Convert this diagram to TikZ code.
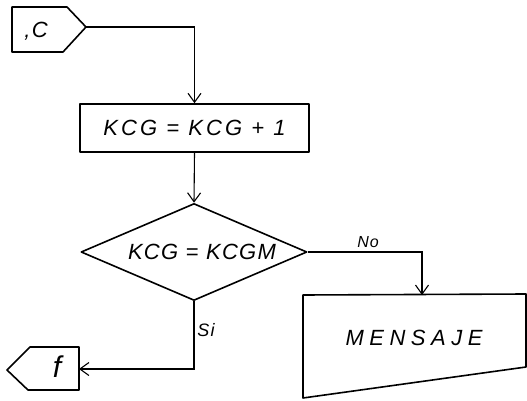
\documentclass[tikz,border=0pt]{standalone}
\usepackage{fontspec}
\newfontfamily\hand[LetterSpace=6]{Liberation Sans}
\usetikzlibrary{arrows.meta,shapes.geometric}
\begin{document}
\begin{tikzpicture}[x=1pt,y=-1pt,
  outl/.style={draw, line width=1.6pt, line join=round},
  conn/.style={line width=1.1pt, -{Straight Barb[length=9pt,width=13pt,line width=1.1pt]}},
  txt/.style={font=\hand\itshape\fontsize{22}{26}\selectfont},
  lbl/.style={font=\hand\itshape\fontsize{16}{18}\selectfont, inner sep=0}]
\useasboundingbox (0,0) rectangle (527,401);
% start connector C
\draw[outl] (12,7) -- (67,7) -- (86,27) -- (63,52) -- (12,52) -- cycle;
\node[txt, inner sep=0] (ctext) at (36,31) {,C};
\coordinate (ctip) at (86,27);
% process box
\node[outl, rectangle, minimum width=229pt, minimum height=48pt, inner sep=0, txt] (inc) at (194.5,128) {\addfontfeature{LetterSpace=14}KCG = KCG + 1};
% decision
\node[outl, diamond, minimum width=226pt, minimum height=97pt, inner sep=0, aspect=2.33] (dec) at (194,252) {};
\node[txt, inner sep=0] (dectext) at (202,252) {KCG = KCGM};
% MENSAJE manual input
\draw[outl] (303,295) -- (526,294) -- (526,367) -- (303,398) -- cycle;
\node[txt, inner sep=0] (msg) at (414,338) {\addfontfeature{LetterSpace=25}MENSAJE};
\coordinate (mtop) at (422,295);
% end connector f
\draw[outl] (79,347) -- (30,347) -- (7,370) -- (28,390) -- (79,390) -- cycle;
\node[font=\hand\itshape\fontsize{30}{32}\selectfont, inner sep=0] (ftext) at (57,367) {f};
\coordinate (fright) at (79,369);
% connectors
\draw[conn] (ctip) -| (inc.north);
\draw[conn] (inc.south) -- (dec.north);
\draw[conn] (dec.east) -| (mtop);
\draw[conn] (dec.south) |- (fright);
% labels
\node[lbl] (nolbl) at (368,242) {No};
\node[lbl, font=\hand\itshape\fontsize{18}{20}\selectfont] (silbl) at (206,330) {Si};
\end{tikzpicture}
\end{document}
